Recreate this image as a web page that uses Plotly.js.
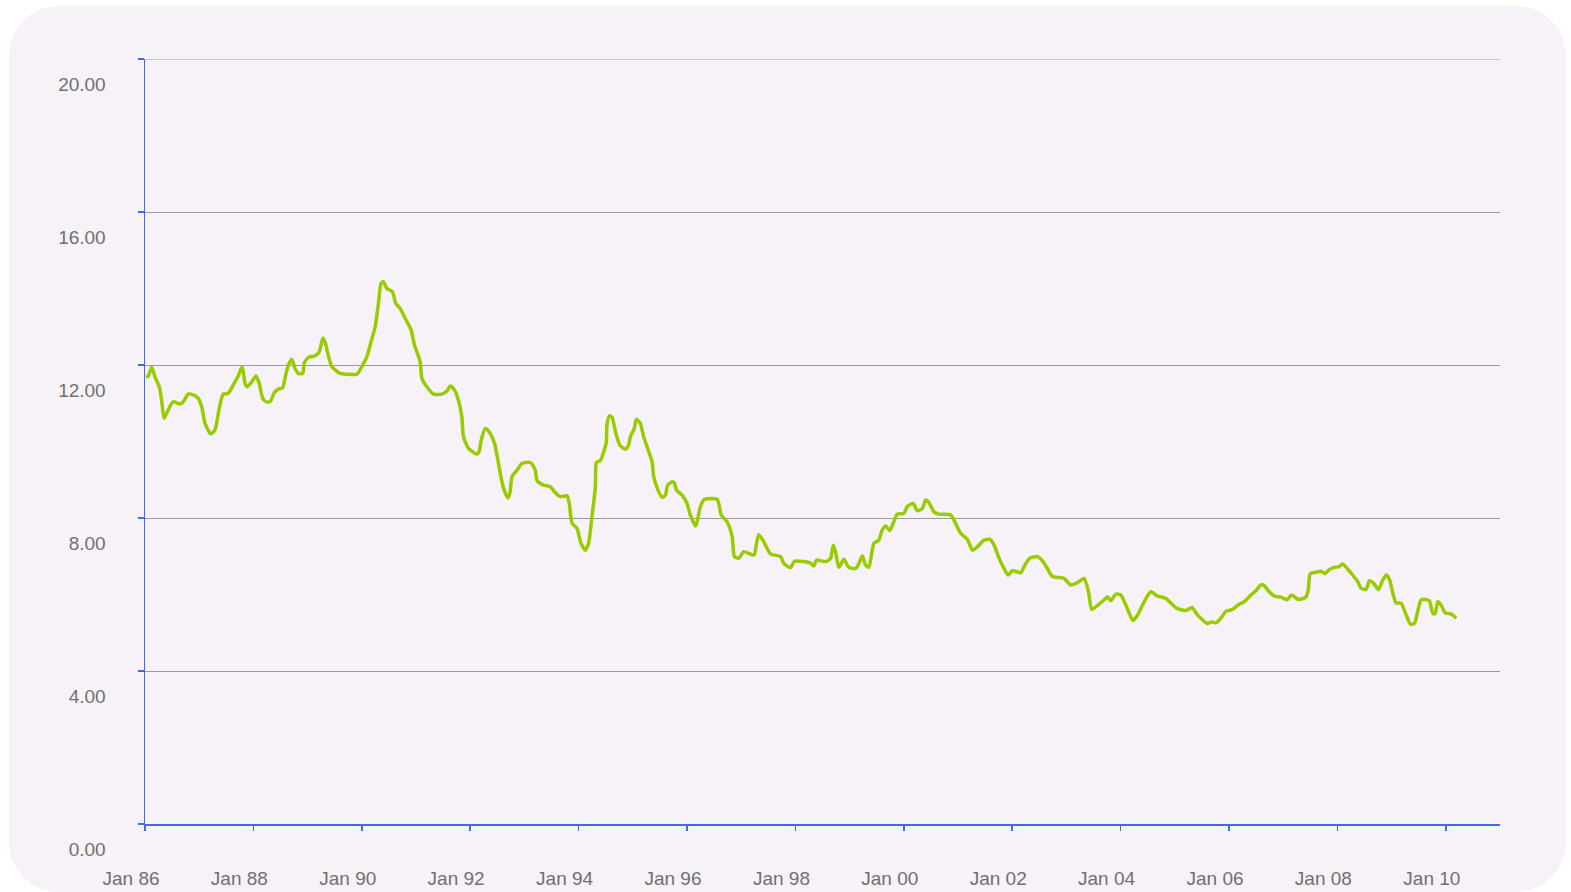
<!DOCTYPE html>
<html>
<head>
<meta charset="utf-8">
<script src="https://cdn.plot.ly/plotly-3.0.1.min.js"></script>
<style>
  html, body { margin: 0; padding: 0; background: #ffffff; width: 1571px; height: 892px; overflow: hidden; }
  #card { position: absolute; left: 9px; top: 6px; width: 1557px; height: 886px; background: #f6f2f7; border-radius: 50px; }
  #chart { position: absolute; left: 0; top: 0; width: 1571px; height: 892px; }
</style>
</head>
<body>
<div id="card"></div>
<div id="chart"></div>
<script>
// Time in decimal years
const years = [
1986.018,1986.061,1986.124,1986.185,1986.264,1986.308,1986.351,1986.401,1986.523,1986.646,1986.707,1986.800,1986.892,1986.984,
1987.047,1987.108,1987.213,1987.293,1987.367,1987.446,1987.538,1987.631,1987.723,1987.797,1987.847,1987.889,1987.970,
1988.050,1988.111,1988.174,1988.247,1988.321,1988.382,1988.462,1988.543,1988.598,1988.646,1988.709,1988.770,1988.831,1988.912,1988.936,
1989.016,1989.139,1989.219,1989.282,1989.324,1989.385,1989.448,1989.601,1989.725,1989.910,
1990.002,1990.094,1990.155,1990.247,1990.308,1990.358,1990.401,1990.463,1990.567,1990.630,1990.709,1990.801,1990.912,1990.973,
1991.078,1991.110,1991.202,1991.324,1991.479,1991.572,1991.633,1991.712,1991.786,1991.849,1991.878,1991.970,
1992.126,1992.168,1992.205,1992.279,1992.353,1992.450,1992.513,1992.555,1992.617,1992.698,1992.740,1992.772,1992.864,1992.957,
1993.110,1993.202,1993.234,1993.356,1993.479,1993.572,1993.664,1993.788,1993.830,1993.880,1993.972,
1994.046,1994.125,1994.186,1994.249,1994.310,1994.329,1994.402,1994.464,1994.513,1994.526,1994.569,1994.618,1994.680,1994.759,1994.864,1994.925,1994.957,
1995.030,1995.067,1995.141,1995.202,1995.276,1995.357,1995.387,1995.461,1995.542,1995.603,1995.646,1995.727,1995.769,1995.806,1995.911,
1996.004,1996.065,1996.157,1996.188,1996.249,1996.323,1996.558,1996.632,1996.742,1996.835,1996.877,1996.957,
1997.049,1997.234,1997.284,1997.326,1997.419,1997.542,1997.727,1997.788,1997.911,1997.985,
1998.158,1998.281,1998.342,1998.392,1998.558,1998.651,1998.700,1998.742,1998.803,1998.895,1998.988,
1999.112,1999.173,1999.236,1999.297,1999.357,1999.450,1999.542,1999.605,1999.666,1999.745,1999.819,1999.882,
2000.003,2000.066,2000.177,2000.251,2000.344,2000.405,2000.466,2000.558,2000.650,2000.866,2000.940,
2001.050,2001.174,2001.267,2001.359,2001.481,2001.592,2001.666,2001.758,2001.850,2001.924,
2002.005,2002.159,2002.220,2002.325,2002.467,2002.560,2002.652,2002.744,2002.958,
2003.082,2003.206,2003.328,2003.409,2003.470,2003.605,2003.728,2003.760,2003.821,2003.913,
2004.005,2004.098,2004.232,2004.314,2004.435,2004.559,2004.683,2004.836,2004.929,
2005.034,2005.206,2005.317,2005.422,2005.607,2005.667,2005.760,2005.852,2005.944,
2006.068,2006.190,2006.282,2006.406,2006.498,2006.590,2006.651,2006.744,2006.836,2006.960,
2007.071,2007.157,2007.279,2007.421,2007.464,2007.501,2007.606,2007.699,2007.772,2007.852,2007.944,
2008.037,2008.099,2008.192,2008.284,2008.376,2008.437,2008.530,2008.591,2008.672,2008.757,2008.838,2008.899,2008.960,
2009.023,2009.084,2009.176,2009.269,2009.348,2009.422,2009.485,2009.546,2009.656,2009.699,2009.762,2009.804,2009.854,2009.916,2009.990,
2010.101,2010.193
];
const values = [
11.68,11.71,11.94,11.69,11.43,11.08,10.61,10.74,11.04,10.98,11.04,11.24,11.22,11.13,
10.91,10.48,10.20,10.30,10.82,11.24,11.26,11.48,11.71,11.96,11.52,11.43,11.56,
11.71,11.52,11.13,11.03,11.06,11.26,11.37,11.41,11.74,12.00,12.15,11.91,11.78,11.78,12.04,
12.20,12.24,12.35,12.70,12.59,12.24,11.96,11.78,11.76,11.76,
11.96,12.21,12.52,13.00,13.61,14.14,14.18,14.00,13.92,13.61,13.48,13.22,12.92,12.52,
12.09,11.65,11.43,11.24,11.24,11.32,11.45,11.35,11.08,10.65,10.13,9.82,
9.67,9.74,10.04,10.34,10.25,9.95,9.52,9.17,8.78,8.52,8.69,9.08,9.25,9.43,
9.45,9.25,8.98,8.86,8.82,8.66,8.56,8.58,8.38,7.86,7.73,
7.34,7.16,7.34,8.03,8.82,9.45,9.50,9.73,9.99,10.43,10.67,10.64,10.26,9.91,9.80,9.91,10.13,
10.34,10.58,10.47,10.13,9.82,9.47,9.08,8.75,8.54,8.60,8.86,8.95,8.92,8.73,8.60,
8.38,8.08,7.79,7.90,8.30,8.49,8.49,8.08,7.90,7.51,6.99,6.95,
7.12,7.03,7.34,7.56,7.38,7.06,6.99,6.81,6.70,6.87,
6.86,6.82,6.75,6.90,6.86,6.95,7.29,7.12,6.71,6.92,6.71,
6.68,6.81,7.01,6.77,6.71,7.34,7.42,7.69,7.79,7.67,7.90,8.10,
8.12,8.30,8.38,8.19,8.25,8.47,8.40,8.16,8.10,8.08,7.90,
7.60,7.44,7.16,7.25,7.42,7.44,7.29,6.95,6.68,6.51,
6.62,6.57,6.73,6.95,6.99,6.88,6.68,6.47,6.42,
6.25,6.31,6.42,6.07,5.61,5.75,5.90,5.94,5.84,6.01,
5.99,5.73,5.32,5.46,5.81,6.07,5.96,5.90,5.77,
5.64,5.58,5.66,5.46,5.24,5.28,5.26,5.38,5.56,
5.61,5.75,5.81,5.99,6.10,6.25,6.23,6.07,5.96,5.93,
5.86,5.99,5.87,5.93,6.12,6.54,6.58,6.61,6.55,6.65,6.71,
6.73,6.80,6.66,6.51,6.34,6.17,6.13,6.36,6.29,6.13,6.38,6.51,6.40,
6.03,5.78,5.77,5.46,5.22,5.25,5.59,5.86,5.86,5.83,5.50,5.50,5.81,5.72,5.52,
5.49,5.38
];
const yTicks = [0, 4, 8, 12, 16, 20];

function toDate(y) {
  const yr = Math.floor(y);
  const s = Date.UTC(yr, 0, 1), e = Date.UTC(yr + 1, 0, 1);
  return new Date(s + (y - yr) * (e - s)).toISOString().slice(0, 10);
}
const dates = years.map(toDate);

const AXIS = '#3d6af0';
const TXT = '#707070';
const GRID = '#9a9a9a';
const FONT = 'Liberation Sans, Arial, sans-serif';

const trace = {
  x: dates, y: values, type: 'scatter', mode: 'lines',
  line: { color: '#99cc00', width: 3.5, shape: 'spline', smoothing: 0.6 },
  hoverinfo: 'x+y'
};

const yMax = yTicks[yTicks.length - 1];

const layout = {
  width: 1571, height: 892,
  margin: { l: 145, r: 71, t: 59, b: 68 },
  paper_bgcolor: 'rgba(0,0,0,0)', plot_bgcolor: 'rgba(0,0,0,0)',
  showlegend: false,
  font: { family: FONT, size: 19, color: TXT },
  xaxis: {
    type: 'date', range: ['1986-01-01', '2011-01-01'],
    tick0: '1986-01-01', dtick: 'M24', tickformat: '%b %y',
    showgrid: false, zeroline: false,
    showline: true, linecolor: AXIS, linewidth: 1.5,
    ticks: 'outside', ticklen: 5, tickcolor: AXIS, tickwidth: 1.5,
    ticklabelshift: -14, ticklabelstandoff: 32,
    tickfont: { family: FONT, size: 19, color: TXT }
  },
  yaxis: {
    range: [0, yMax], tickvals: yTicks, tickformat: '.2f',
    showgrid: true, gridcolor: GRID, gridwidth: 1,
    zeroline: false,
    showline: true, linecolor: AXIS, linewidth: 1.5,
    ticks: 'outside', ticklen: 6, tickcolor: AXIS, tickwidth: 1.5,
    ticklabelshift: 25, ticklabelstandoff: 28,
    tickfont: { family: FONT, size: 19, color: TXT }
  },
  shapes: [
    // top gridline (at the top tick value), which Plotly skips at the range edge
    { type: 'line', xref: 'paper', x0: 0, x1: 1, yref: 'y', y0: yMax, y1: yMax,
      line: { color: GRID, width: 1 }, layer: 'below' }
  ]
};

Plotly.newPlot('chart', [trace], layout, { displayModeBar: false, staticPlot: true });
</script>
</body>
</html>
